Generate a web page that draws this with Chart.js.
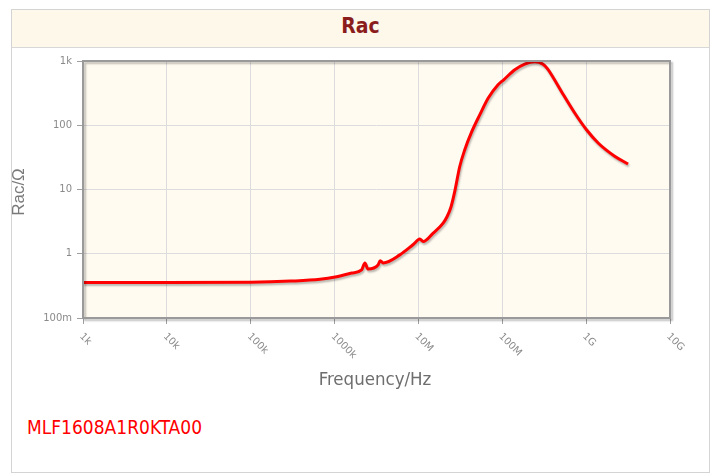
<!DOCTYPE html>
<html>
<head>
<meta charset="utf-8">
<script src="https://cdn.jsdelivr.net/npm/chart.js@4.4.1/dist/chart.umd.min.js"></script>
<style>
  html, body { margin: 0; padding: 0; background: #fff; }
  body { width: 715px; height: 475px; position: relative; overflow: hidden; }
  #panel {
    position: absolute; left: 11px; top: 9px; width: 697px; height: 462px;
    border: 1px solid #d4d4d4; background: #fff;
  }
  #head {
    height: 37px; background: #fdf8ea; border-bottom: 1px solid #d8d8d8;
    text-align: center; line-height: 36px; padding-top: 0;
    font: bold 21px "DejaVu Sans Condensed", "DejaVu Sans", sans-serif; color: #8b1c1c;
  }
  #head span { position: relative; top: 4px; }
  #part {
    position: absolute; left: 27px; top: 416px;
    font: 19px "DejaVu Sans Condensed", "DejaVu Sans", sans-serif; color: #ff0000;
  }
  #wrap { position: absolute; left: 0; top: 0; width: 715px; height: 475px; }
</style>
</head>
<body>
<div id="panel"><div id="head"><span>Rac</span></div></div>
<div id="part">MLF1608A1R0KTA00</div>
<div id="wrap"><canvas id="racChart" width="715" height="475"></canvas></div>
<script>
// Rac vs frequency
const freqHz = [1e3, 1e4, 1e5, 3e5, 6.7e5, 1.06e6, 1.6e6, 2.1e6, 2.3e6, 2.5e6, 3.3e6, 3.5e6, 3.8e6,
  6.0e6, 8.6e6, 10.4e6, 11.4e6, 15e6, 19.7e6, 22e6, 24.5e6, 27.2e6, 31.1e6, 35.7e6, 43e6, 54e6, 68e6,
  89e6, 104e6, 141e6, 185e6, 244e6, 306e6, 345e6, 386e6, 507e6, 731e6, 1.01e9, 1.39e9, 2.19e9, 3.16e9];
const racOhm = [0.357, 0.356, 0.36, 0.375, 0.40, 0.44, 0.50, 0.56, 0.72, 0.58, 0.67, 0.78, 0.72,
  0.96, 1.38, 1.69, 1.55, 2.1, 3.0, 3.8, 5.4, 9.5, 22.8, 41.6, 78, 146, 265,
  427, 510, 731, 895, 975, 890, 760, 611, 336, 155, 85, 53, 33, 25];

const xTickValues = [1e3, 1e4, 1e5, 1e6, 1e7, 1e8, 1e9, 1e10];
const xTickLabels = ["1k", "10k", "100k", "1000k", "10M", "100M", "1G", "10G"];
const yTickValues = [0.1, 1, 10, 100, 1000];
const yTickLabels = ["100m", "1", "10", "100", "1k"];

const xTitle = "Frequency/Hz";
const yTitle = "Rac/Ω";
const seriesName = "MLF1608A1R0KTA00";

const points = freqHz.map((f, i) => ({ x: f, y: racOhm[i] }));

const plotDecor = {
  id: "plotDecor",
  beforeDraw(chart) {
    const { ctx, chartArea: a } = chart;
    ctx.save();
    ctx.fillStyle = "#fffbf1";
    ctx.fillRect(a.left, a.top, a.right - a.left, a.bottom - a.top);
    ctx.restore();
  },
  beforeDatasetDraw(chart) {
    const ctx = chart.ctx;
    ctx.save();
    ctx.shadowColor = "rgba(0,0,0,0.28)";
    ctx.shadowBlur = 2;
    ctx.shadowOffsetX = 1;
    ctx.shadowOffsetY = 2;
  },
  afterDatasetDraw(chart) {
    chart.ctx.restore();
  },
  afterDraw(chart) {
    const { ctx, chartArea: a, scales } = chart;
    ctx.save();
    // frame with a soft shadow
    ctx.shadowColor = "rgba(0,0,0,0.25)";
    ctx.shadowBlur = 2;
    ctx.shadowOffsetX = 2;
    ctx.shadowOffsetY = 2;
    ctx.strokeStyle = "#9a9a9a";
    ctx.lineWidth = 2;
    ctx.strokeRect(a.left, a.top, a.right - a.left, a.bottom - a.top);
    ctx.restore();

    // slanted x tick labels
    ctx.save();
    ctx.fillStyle = "#8a8a8a";
    ctx.font = "10px 'DejaVu Sans', sans-serif";
    ctx.textAlign = "left";
    ctx.textBaseline = "middle";
    xTickValues.forEach((v, i) => {
      const px = scales.x.getPixelForValue(v);
      ctx.save();
      ctx.translate(px - 2, a.bottom + 17);
      ctx.rotate(Math.PI / 4);
      ctx.fillText(xTickLabels[i], 0, 0);
      ctx.restore();
    });
    ctx.restore();

    // axis titles
    ctx.save();
    ctx.fillStyle = "#6e6e6e";
    ctx.font = "18.5px 'DejaVu Sans Condensed', 'DejaVu Sans', sans-serif";
    ctx.textAlign = "center";
    ctx.textBaseline = "middle";
    ctx.fillText(xTitle, 375, 380);
    ctx.translate(19, 192);
    ctx.rotate(-Math.PI / 2);
    ctx.fillStyle = "#7a7a7a";
    ctx.font = "17px 'Liberation Sans', Arial, sans-serif";
    ctx.fillText(yTitle, 0, 0);
    ctx.restore();
  }
};

new Chart(document.getElementById("racChart"), {
  type: "line",
  data: {
    datasets: [{
      label: seriesName,
      data: points,
      borderColor: "#ff0000",
      borderWidth: 3,
      pointRadius: 0,
      fill: false,
      cubicInterpolationMode: "monotone"
    }]
  },
  options: {
    responsive: false,
    animation: false,
    layout: { padding: { top: 61, right: 45, left: 0, bottom: 0 } },
    plugins: { legend: { display: false }, tooltip: { enabled: false } },
    scales: {
      x: {
        type: "logarithmic",
        min: 1e3,
        max: 1e10,
        afterBuildTicks: s => { s.ticks = xTickValues.map(v => ({ value: v })); },
        afterFit: s => { s.height = 157; },
        ticks: { display: false },
        grid: { color: "#dcdcdc", lineWidth: 1, tickLength: 6, tickColor: "#a0a0a0" },
        border: { display: false }
      },
      y: {
        type: "logarithmic",
        min: 0.1,
        max: 1000,
        afterBuildTicks: s => { s.ticks = yTickValues.map(v => ({ value: v })); },
        afterFit: s => { s.width = 83; },
        ticks: {
          color: "#8a8a8a",
          padding: 5,
          font: { family: "'DejaVu Sans', sans-serif", size: 10 },
          callback: (v) => {
            const i = yTickValues.indexOf(v);
            return i >= 0 ? yTickLabels[i] : "";
          }
        },
        grid: { color: "#dcdcdc", lineWidth: 1, tickLength: 6, tickColor: "#a0a0a0" },
        border: { display: false }
      }
    }
  },
  plugins: [plotDecor]
});
</script>
</body>
</html>
